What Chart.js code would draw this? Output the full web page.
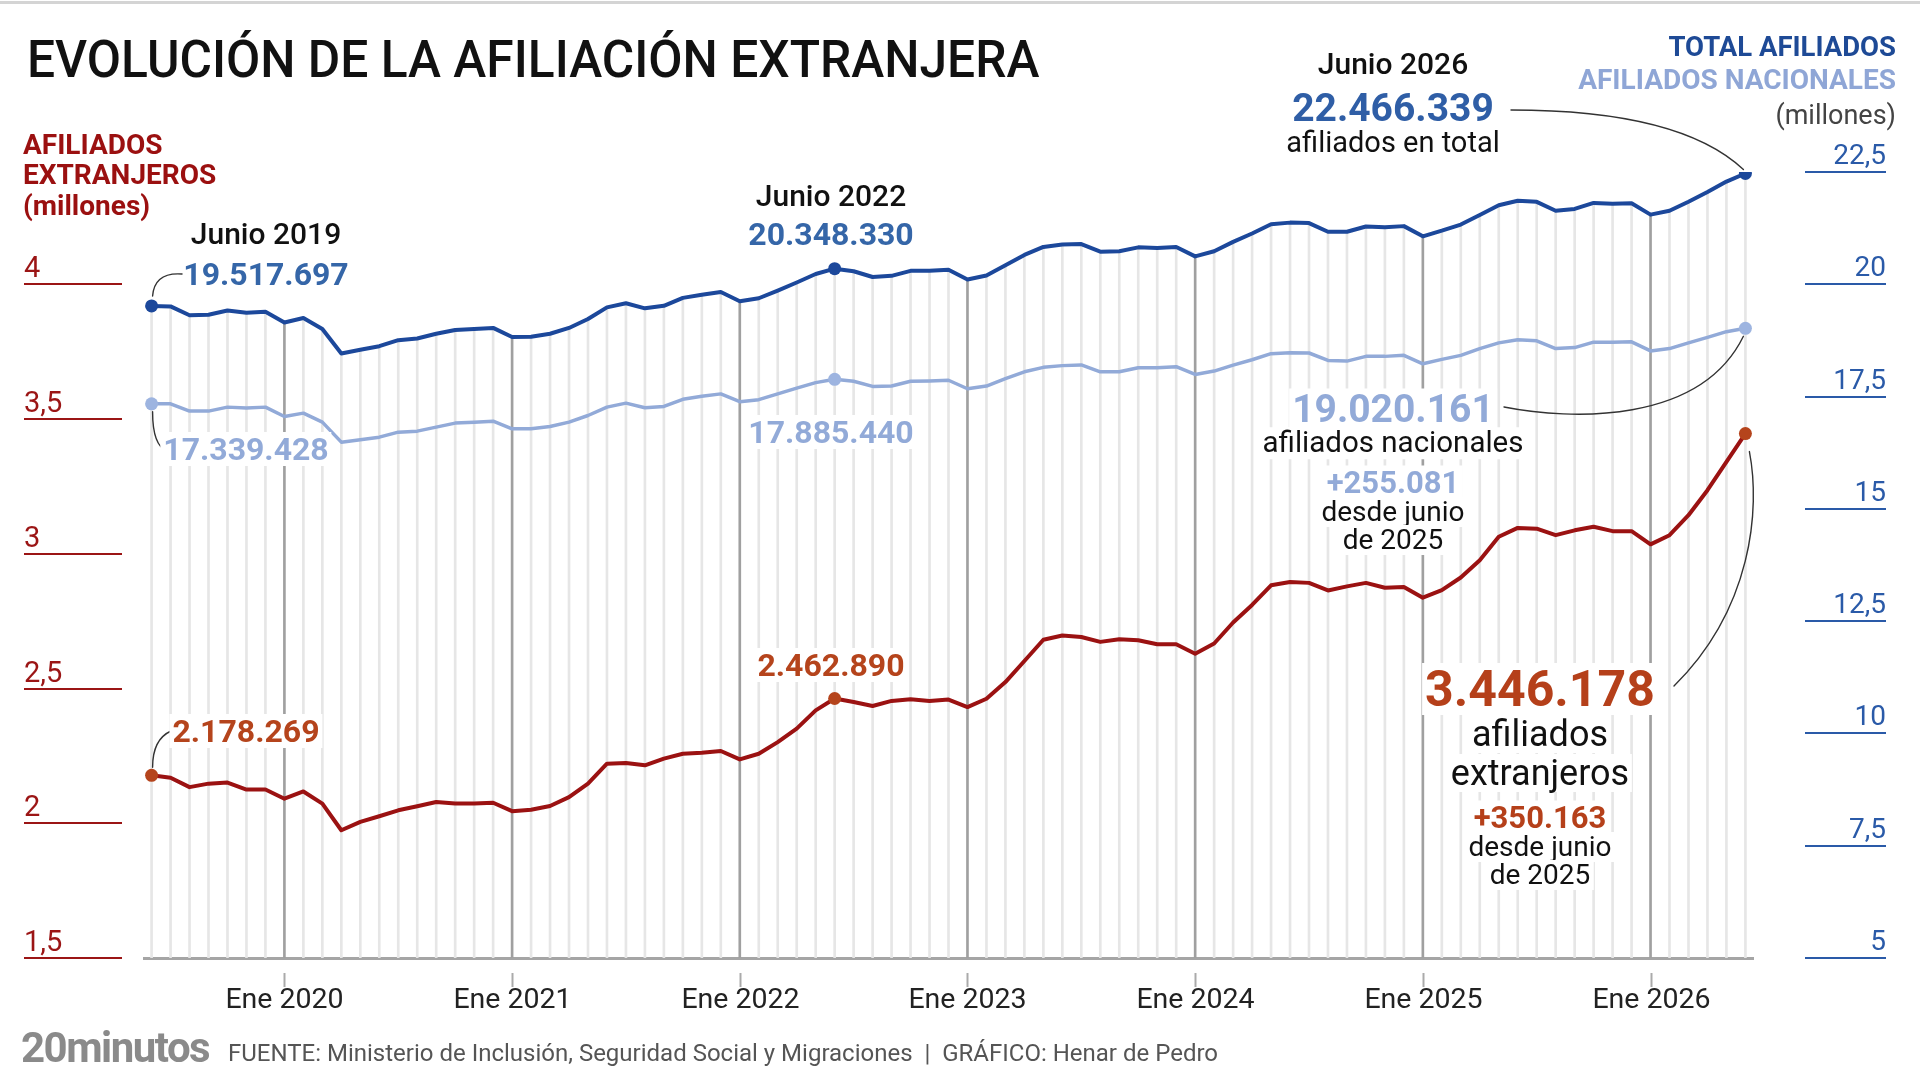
<!DOCTYPE html>
<html><head><meta charset="utf-8">
<script src="https://cdn.jsdelivr.net/npm/chart.js@4/dist/chart.umd.min.js"></script>
<style>
html,body{margin:0;padding:0;background:#fff;}
#wrap{position:relative;width:1920px;height:1080px;overflow:hidden;font-family:Roboto,"Noto Sans",sans-serif;}
#chart{position:absolute;left:0;top:0;}
.t{position:absolute;white-space:nowrap;line-height:1;}
.c{transform:translate(-50%,-50%);text-align:center;}
.l{transform:translateY(-50%);}
.r{transform:translateY(-50%);text-align:right;}
.bg{background:#fff;padding:1px 3px;}
.b{font-weight:700;}
</style></head>
<body><div id="wrap">
<canvas id="chart" width="1920" height="1080"></canvas>
<div style="position:absolute;left:0;top:1px;width:1920px;height:3px;background:#d4d4d4"></div>

<div class="t" style="left:27px;top:60px;font-size:52px;font-weight:500;color:#111;transform:translateY(-50%) scaleX(0.956);transform-origin:left center;">EVOLUCIÓN DE LA AFILIACIÓN EXTRANJERA</div>

<div class="t l b" style="left:23px;top:145px;font-size:28px;color:#9b1010;">AFILIADOS</div>
<div class="t l b" style="left:23px;top:175px;font-size:28px;color:#9b1010;">EXTRANJEROS</div>
<div class="t l b" style="left:23px;top:206px;font-size:28px;color:#9b1010;">(millones)</div>

<div class="t r b" style="right:24px;top:47px;font-size:27.5px;color:#1e4a96;">TOTAL AFILIADOS</div>
<div class="t r b" style="right:24px;top:80px;font-size:28px;color:#8fa6d6;">AFILIADOS NACIONALES</div>
<div class="t r" style="right:24px;top:115px;font-size:27px;color:#444;">(millones)</div>

<div class="t c" style="left:1393px;top:64px;font-size:30px;font-weight:500;color:#111;">Junio 2026</div>
<div class="t c b" style="left:1393px;top:108px;font-size:39px;color:#2f5ea6;">22.466.339</div>
<div class="t c" style="left:1393px;top:142px;font-size:29px;color:#111;">afiliados en total</div>

<div class="t c" style="left:266px;top:234px;font-size:30px;font-weight:500;color:#111;">Junio 2019</div>
<div class="t c b" style="left:266px;top:274px;font-size:32px;color:#3566a8;">19.517.697</div>
<div class="t c b bg" style="left:246px;top:449px;font-size:32px;color:#92aad8;">17.339.428</div>
<div class="t c b bg" style="left:246px;top:731px;font-size:32px;color:#b5441c;">2.178.269</div>

<div class="t c" style="left:831px;top:196px;font-size:30px;font-weight:500;color:#111;">Junio 2022</div>
<div class="t c b" style="left:831px;top:234px;font-size:32px;color:#3566a8;">20.348.330</div>
<div class="t c b bg" style="left:831px;top:432px;font-size:32px;color:#92aad8;">17.885.440</div>
<div class="t c b bg" style="left:831px;top:665px;font-size:32px;color:#b5441c;">2.462.890</div>

<div class="t c b bg" style="left:1393px;top:409px;font-size:39px;color:#92aad8;">19.020.161</div>
<div class="t c bg" style="left:1393px;top:443px;font-size:29.5px;color:#111;">afiliados nacionales</div>
<div class="t c b bg" style="left:1393px;top:482px;font-size:31px;color:#92aad8;">+255.081</div>
<div class="t c bg" style="left:1393px;top:512px;font-size:28px;color:#111;">desde junio</div>
<div class="t c bg" style="left:1393px;top:540px;font-size:28px;color:#111;">de 2025</div>

<div class="t c b bg" style="left:1540px;top:689px;font-size:50px;color:#b5401a;">3.446.178</div>
<div class="t c bg" style="left:1540px;top:734px;font-size:36px;color:#111;">afiliados</div>
<div class="t c bg" style="left:1540px;top:773px;font-size:36px;color:#111;">extranjeros</div>
<div class="t c b bg" style="left:1540px;top:817px;font-size:31px;color:#b5401a;">+350.163</div>
<div class="t c bg" style="left:1540px;top:847px;font-size:28px;color:#111;">desde junio</div>
<div class="t c bg" style="left:1540px;top:875px;font-size:28px;color:#111;">de 2025</div>

<div class="t l b" style="left:21px;top:1048px;font-size:42px;color:#8a8a8a;letter-spacing:-1.5px;">20minutos</div>
<div class="t l" style="left:228px;top:1053px;font-size:24px;color:#555;">FUENTE: Ministerio de Inclusión, Seguridad Social y Migraciones &nbsp;|&nbsp; GRÁFICO: Henar de Pedro</div>
</div>
<script>
const months = [
 'jun 2019','jul 2019','ago 2019','sep 2019','oct 2019','nov 2019','dic 2019',
 'ene 2020','feb 2020','mar 2020','abr 2020','may 2020','jun 2020','jul 2020','ago 2020','sep 2020','oct 2020','nov 2020','dic 2020',
 'ene 2021','feb 2021','mar 2021','abr 2021','may 2021','jun 2021','jul 2021','ago 2021','sep 2021','oct 2021','nov 2021','dic 2021',
 'ene 2022','feb 2022','mar 2022','abr 2022','may 2022','jun 2022','jul 2022','ago 2022','sep 2022','oct 2022','nov 2022','dic 2022',
 'ene 2023','feb 2023','mar 2023','abr 2023','may 2023','jun 2023','jul 2023','ago 2023','sep 2023','oct 2023','nov 2023','dic 2023',
 'ene 2024','feb 2024','mar 2024','abr 2024','may 2024','jun 2024','jul 2024','ago 2024','sep 2024','oct 2024','nov 2024','dic 2024',
 'ene 2025','feb 2025','mar 2025','abr 2025','may 2025','jun 2025','jul 2025','ago 2025','sep 2025','oct 2025','nov 2025','dic 2025',
 'ene 2026','feb 2026','mar 2026','abr 2026','may 2026','jun 2026'
];
// Afiliados extranjeros (millones)
const extranjeros = [
 2.178,2.169,2.134,2.147,2.151,2.125,2.125,
 2.091,2.118,2.073,1.974,2.005,2.026,2.048,2.063,2.079,2.073,2.073,2.076,
 2.045,2.050,2.064,2.097,2.147,2.221,2.224,2.215,2.240,2.258,2.262,2.268,
 2.237,2.258,2.301,2.351,2.419,2.463,2.450,2.435,2.454,2.460,2.454,2.459,
 2.431,2.462,2.524,2.602,2.681,2.697,2.691,2.673,2.683,2.679,2.664,2.664,
 2.629,2.667,2.745,2.810,2.883,2.895,2.892,2.864,2.879,2.892,2.874,2.877,
 2.837,2.865,2.912,2.976,3.063,3.096,3.093,3.069,3.087,3.100,3.084,3.084,
 3.035,3.069,3.143,3.236,3.341,3.446
];
// Afiliados nacionales (millones)
const nacionales = [
 17.339,17.339,17.176,17.176,17.265,17.243,17.265,
 17.057,17.131,16.931,16.485,16.537,16.596,16.708,16.730,16.819,16.909,16.931,16.953,
 16.782,16.782,16.834,16.931,17.079,17.265,17.354,17.250,17.280,17.440,17.507,17.560,
 17.386,17.431,17.560,17.689,17.810,17.885,17.840,17.727,17.734,17.840,17.848,17.863,
 17.674,17.734,17.901,18.052,18.151,18.189,18.204,18.052,18.052,18.143,18.143,18.166,
 17.992,18.068,18.200,18.320,18.455,18.478,18.470,18.305,18.290,18.395,18.395,18.418,
 18.230,18.328,18.418,18.568,18.696,18.765,18.742,18.568,18.591,18.711,18.711,18.719,
 18.516,18.568,18.696,18.817,18.945,19.020
];
// Total afiliados (millones)
const totalAfiliados = [
 19.518,19.508,19.310,19.323,19.416,19.368,19.390,
 19.148,19.249,19.004,18.459,18.542,18.622,18.756,18.793,18.898,18.982,19.004,19.029,
 18.827,18.832,18.898,19.028,19.226,19.486,19.578,19.465,19.520,19.698,19.769,19.828,
 19.623,19.689,19.861,20.040,20.229,20.348,20.290,20.162,20.188,20.300,20.302,20.322,
 20.105,20.196,20.425,20.654,20.832,20.886,20.895,20.725,20.735,20.822,20.807,20.830,
 20.621,20.735,20.945,21.130,21.338,21.373,21.362,21.169,21.169,21.287,21.269,21.295,
 21.067,21.193,21.330,21.544,21.759,21.861,21.835,21.637,21.678,21.811,21.795,21.803,
 21.551,21.637,21.839,22.053,22.286,22.466
];
const xTickLabels = ['Ene 2020','Ene 2021','Ene 2022','Ene 2023','Ene 2024','Ene 2025','Ene 2026'];
const leftTickValues = [1.5,2,2.5,3,3.5,4];
const leftTickLabels = ['1,5','2','2,5','3','3,5','4'];
const rightTickValues = [5,7.5,10,12.5,15,17.5,20,22.5];
const rightTickLabels = ['5','7,5','10','12,5','15','17,5','20','22,5'];
const markedMonths = ['jun 2019','jun 2022','jun 2026'];

const janIdx = xTickLabels.map(l => months.indexOf(l.toLowerCase()));
const markIdx = markedMonths.map(m => months.indexOf(m));
const toXY = arr => arr.map((v,i)=>({x:i,y:v}));

const C_TOTAL='#1c489b', C_NAC='#92aad8', C_EXT='#9b1212';

const decor = {
  id:'decor',
  afterDatasetsDraw(chart){
    const ctx = chart.ctx;
    const pt = (ds,i)=>{const e=chart.getDatasetMeta(ds).data[i];return {x:e.x,y:e.y};};
    ctx.save();
    ctx.strokeStyle='#333'; ctx.lineWidth=1.4; ctx.lineCap='round';
    const last = months.length-1;
    let p = pt(0,0);
    ctx.beginPath(); ctx.moveTo(p.x+1,p.y-10); ctx.quadraticCurveTo(p.x+3,p.y-34,182,274); ctx.stroke();
    p = pt(1,0);
    ctx.beginPath(); ctx.moveTo(p.x+1,p.y+8); ctx.quadraticCurveTo(p.x+1,p.y+42,167,451); ctx.stroke();
    p = pt(2,0);
    ctx.beginPath(); ctx.moveTo(p.x+1,p.y-8); ctx.quadraticCurveTo(p.x+1,p.y-36,171,731); ctx.stroke();
    p = pt(0,last);
    ctx.beginPath(); ctx.moveTo(1511,110); ctx.quadraticCurveTo(1680,110,p.x-2,p.y-4); ctx.stroke();
    p = pt(1,last);
    ctx.beginPath(); ctx.moveTo(1504,407); ctx.bezierCurveTo(1570,420,1700,425,p.x-2,p.y+8); ctx.stroke();
    p = pt(2,last);
    ctx.beginPath(); ctx.moveTo(p.x+4,p.y+18); ctx.bezierCurveTo(p.x+15,p.y+75,p.x+7,p.y+175,1674,686); ctx.stroke();
    ctx.restore();
  },
  afterDraw(chart){
    const {ctx, chartArea:ca, scales:{x,y,y2}} = chart;
    ctx.save();
    ctx.font='29px Roboto'; ctx.textBaseline='alphabetic';
    leftTickValues.forEach((v,i)=>{
      const py = Math.round(y.getPixelForValue(v));
      ctx.strokeStyle='#9b1515'; ctx.lineWidth=2;
      ctx.beginPath(); ctx.moveTo(24,py); ctx.lineTo(122,py); ctx.stroke();
      ctx.fillStyle='#9b1515'; ctx.textAlign='left';
      ctx.fillText(leftTickLabels[i],24,py-7);
    });
    ctx.font='28px Roboto';
    rightTickValues.forEach((v,i)=>{
      const py = Math.round(y2.getPixelForValue(v));
      ctx.strokeStyle='#2a5aa8'; ctx.lineWidth=2;
      ctx.beginPath(); ctx.moveTo(1805,py); ctx.lineTo(1886,py); ctx.stroke();
      ctx.fillStyle='#2a5aa8'; ctx.textAlign='right';
      ctx.fillText(rightTickLabels[i],1886,py-8);
    });
    ctx.font='28.5px Roboto'; ctx.textAlign='center'; ctx.textBaseline='middle'; ctx.fillStyle='#222';
    janIdx.forEach((idx,i)=>{
      const px = Math.round(x.getPixelForValue(idx))+0.5;
      ctx.strokeStyle='#aaa'; ctx.lineWidth=2;
      ctx.beginPath(); ctx.moveTo(px,ca.bottom+15); ctx.lineTo(px,ca.bottom+29); ctx.stroke();
      ctx.fillText(xTickLabels[i],px,ca.bottom+43);
    });
    ctx.restore();
  }
};

new Chart(document.getElementById('chart'), {
  type:'line',
  data:{
    labels: months,
    datasets:[
      {type:'line',label:'Total afiliados',data:toXY(totalAfiliados),yAxisID:'y2',
       borderColor:C_TOTAL,borderWidth:4,tension:0,borderJoinStyle:'round',
       pointRadius:c=>markIdx.includes(c.dataIndex)?6.5:0,pointHoverRadius:0,
       pointBackgroundColor:C_TOTAL,pointBorderWidth:0,order:1},
      {type:'line',label:'Afiliados nacionales',data:toXY(nacionales),yAxisID:'y2',
       borderColor:C_NAC,borderWidth:3.5,tension:0,borderJoinStyle:'round',
       pointRadius:c=>markIdx.includes(c.dataIndex)?6.5:0,pointHoverRadius:0,
       pointBackgroundColor:'#9db4e0',pointBorderWidth:0,order:2},
      {type:'line',label:'Afiliados extranjeros',data:toXY(extranjeros),yAxisID:'y',
       borderColor:C_EXT,borderWidth:4,tension:0,borderJoinStyle:'round',
       pointRadius:c=>markIdx.includes(c.dataIndex)?6.5:0,pointHoverRadius:0,
       pointBackgroundColor:'#b5441c',pointBorderWidth:0,order:3},
      {type:'bar',label:'meses',data:toXY(totalAfiliados),yAxisID:'y2',
       backgroundColor:c=>janIdx.includes(c.dataIndex)?'#a0a0a0':'#e6e6e6',
       barThickness:2,order:10}
    ]
  },
  options:{
    responsive:false, animation:false, devicePixelRatio:1, events:[],
    layout:{padding:{left:144,right:167,top:172,bottom:122}},
    plugins:{legend:{display:false},tooltip:{enabled:false}},
    scales:{
      x:{type:'linear',min:-0.4,max:84.4,offset:false,display:true,
         grid:{display:false,drawTicks:false},ticks:{display:false},
         border:{display:true,color:'#a5a5a5',width:3}},
      y:{type:'linear',position:'left',min:1.5,max:4.41667,display:false},
      y2:{type:'linear',position:'right',min:5,max:22.5,display:false}
    }
  },
  plugins:[decor]
});
</script>
</body></html>
